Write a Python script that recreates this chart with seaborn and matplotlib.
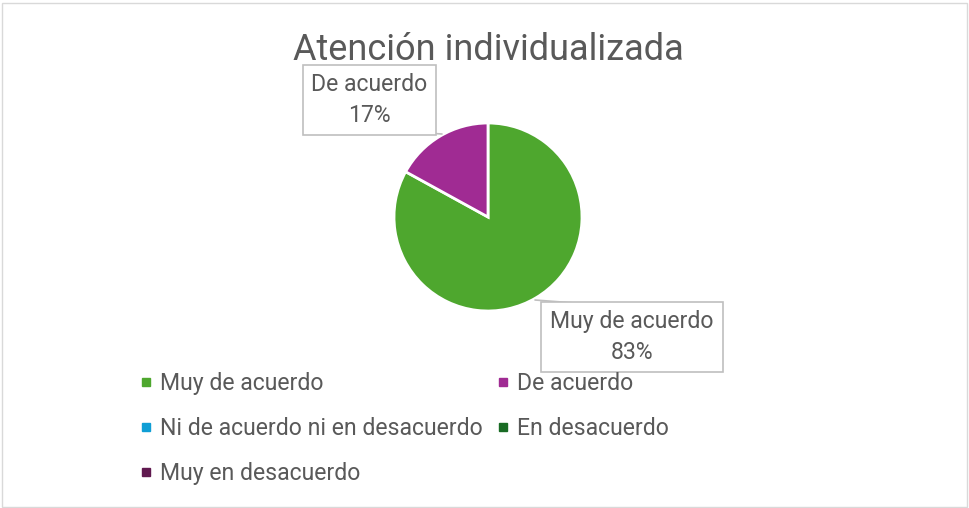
import matplotlib
matplotlib.use("Agg")
import matplotlib.pyplot as plt
from matplotlib.lines import Line2D
from matplotlib.patches import Rectangle
import seaborn as sns

categories = ["Muy de acuerdo", "De acuerdo", "Ni de acuerdo ni en desacuerdo",
              "En desacuerdo", "Muy en desacuerdo"]
values = [83, 17, 0, 0, 0]
colors = ["#4EA72E", "#A02B93", "#0F9ED5", "#196B24", "#60194F"]
title = "Atención individualizada"

sns.set_theme(style="white")
FONT = ["Roboto", "DejaVu Sans"]
plt.rcParams["font.family"] = FONT
TXT = "#595959"
FS = 16.6

W, H = 969, 508
fig = plt.figure(figsize=(W / 100, H / 100), dpi=100)
fig.patch.set_facecolor("white")
fig.add_artist(Rectangle((1.5 / W, 1.5 / H), (W - 4) / W, (H - 4) / H,
                         transform=fig.transFigure, fill=False,
                         edgecolor="#D9D9D9", linewidth=1))

cx, cy, r = 488, 217, 94
ax = fig.add_axes([(cx - r) / W, (H - cy - r) / H, 2 * r / W, 2 * r / H])
nz = [(v, c, l) for v, c, l in zip(values, colors, categories) if v > 0]
total = sum(values)
wedges, _ = ax.pie([v for v, _, _ in nz], colors=[c for _, c, _ in nz],
                   startangle=90, counterclock=False, radius=1,
                   wedgeprops=dict(edgecolor="white", linewidth=2))
ax.set_xlim(-1, 1)
ax.set_ylim(-1, 1)
ax.set_aspect("equal")
ax.axis("off")

# data label callouts (box center in figure pixels, leader point in pixels)
boxes = {"De acuerdo": (369.5, 100, 442, 134, 410, 132),
         "Muy de acuerdo": (632, 337, 535, 300, 575, 303)}
for v, c, l in nz:
    bx, by, px, py, lx, ly = boxes[l]
    pct = f"{round(100 * v / total)}%"
    fig.text(bx / W, 1 - by / H, f"{l}\n{pct}", ha="center", va="center",
             fontsize=FS, color=TXT, linespacing=1.4,
             bbox=dict(boxstyle="square,pad=0.38", facecolor="white",
                       edgecolor="#BFBFBF", linewidth=1.2))
    fig.add_artist(Line2D([lx / W, px / W], [1 - ly / H, 1 - py / H],
                          transform=fig.transFigure, color="#BFBFBF", linewidth=1.2))

fig.text(cx / W, 1 - 50 / H, title, ha="center", va="center",
         fontsize=26, color=TXT)

handles = [Line2D([], [], marker="s", linestyle="none", markersize=6,
                  markerfacecolor=c, markeredgecolor=c) for c in colors]
order = [0, 2, 4, 1, 3]
leg = fig.legend([handles[i] for i in order], [categories[i] for i in order],
                 ncol=2, loc="upper left", bbox_to_anchor=(140 / W, 1 - 372 / H),
                 frameon=False, fontsize=FS, labelcolor=TXT,
                 handlelength=0.5, handletextpad=0.35, columnspacing=0.65,
                 labelspacing=0.95, borderaxespad=0, borderpad=0)

fig.savefig("out.png", dpi=100, facecolor="white")
